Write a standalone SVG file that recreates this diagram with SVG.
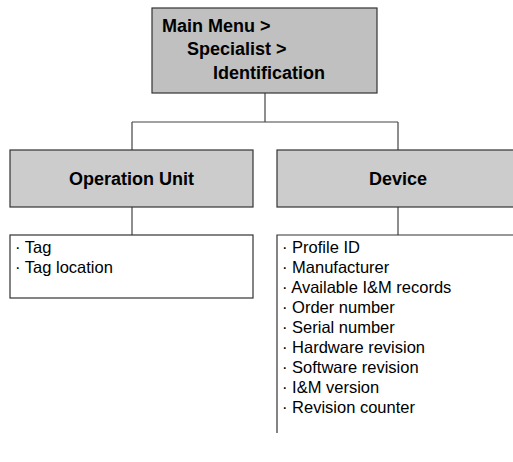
<svg xmlns="http://www.w3.org/2000/svg" width="513" height="462" viewBox="0 0 513 462">
<style>
.box{fill:#cccccc;stroke:#333;stroke-width:1.2}
.main{fill:#c0c0c0}
.list{fill:#fff;stroke:#333;stroke-width:1.2}
.con{fill:none;stroke:#444;stroke-width:1.2}
.h{font-family:"Liberation Sans",Arial,sans-serif;font-weight:bold;font-size:18px;fill:#000}
.t{font-family:"Liberation Sans",Arial,sans-serif;font-size:16.5px;fill:#000}
</style>
<rect x="0" y="0" width="513" height="462" fill="#fff"/>
<g id="connectors">
<path class="con" d="M265 93V122M132 122H398M132 122V150M398 122V150M132 207V235M398 207V235"/>
</g>
<g id="main">
<rect class="box main" x="152" y="8" width="225" height="85"/>
<text class="h" x="162" y="31.5">Main Menu &gt;</text>
<text class="h" x="187" y="55">Specialist &gt;</text>
<text class="h" x="213" y="78.5">Identification</text>
</g>
<g id="operation-unit">
<rect class="box" x="10" y="150" width="243" height="57"/>
<text class="h" x="131.5" y="184.5" text-anchor="middle">Operation Unit</text>
</g>
<g id="device">
<rect class="box" x="277" y="150" width="243" height="57"/>
<text class="h" x="398" y="184.5" text-anchor="middle">Device</text>
</g>
<g id="operation-unit-items">
<rect class="list" x="10" y="235" width="243" height="63"/>
<text class="t" x="15" y="252.5">· Tag</text>
<text class="t" x="15" y="272.5">· Tag location</text>
</g>
<g id="device-items">
<path class="list" d="M520 235H277V433"/>
<text class="t" x="282" y="252.5">· Profile ID</text>
<text class="t" x="282" y="272.5">· Manufacturer</text>
<text class="t" x="282" y="292.5">· Available I&amp;M records</text>
<text class="t" x="282" y="312.5">· Order number</text>
<text class="t" x="282" y="332.5">· Serial number</text>
<text class="t" x="282" y="352.5">· Hardware revision</text>
<text class="t" x="282" y="372.5">· Software revision</text>
<text class="t" x="282" y="392.5">· I&amp;M version</text>
<text class="t" x="282" y="412.5">· Revision counter</text>
</g>
</svg>
